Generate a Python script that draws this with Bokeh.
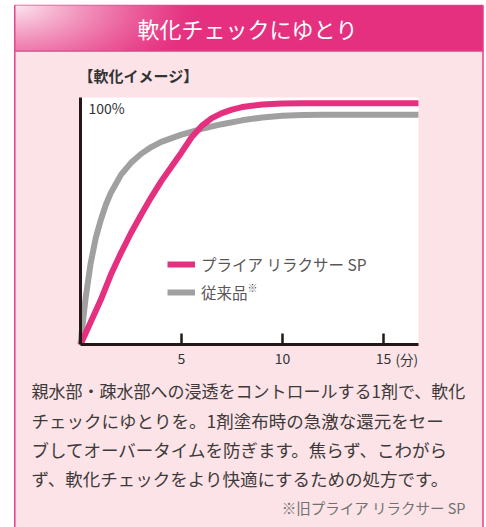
import numpy as np
from bokeh.plotting import figure
from bokeh.models import Range1d, FixedTicker, Label, Legend, LegendItem
from bokeh.embed import file_html
from bokeh.resources import INLINE

# ---------------- data ----------------
pink_t = [0, 0.5, 1.0, 1.5, 2.0, 2.5, 3.0, 3.5, 4.0, 4.5, 5.0, 5.5, 6.0, 6.5, 7.0, 7.5, 8.0, 9.0, 10.0, 11.0, 16.73]
pink_v = [0, 9.2, 18.4, 28.9, 37.9, 46.2, 53.8, 61.0, 67.7, 73.7, 79.6, 85.9, 90.6, 93.8, 95.9, 97.3, 98.4, 99.5, 99.9, 100, 100]
grey_t = [0, 0.1, 0.25, 0.5, 0.75, 1.0, 1.25, 1.5, 2.0, 2.5, 3.0, 3.5, 4.0, 5.0, 6.0, 7.0, 8.0, 9.0, 10.0, 11.0, 12.0, 16.73]
grey_v = [0, 8.0, 19.0, 33.5, 44.0, 51.5, 57.8, 62.8, 70.3, 75.3, 79.0, 81.8, 84.0, 87.0, 89.4, 91.3, 92.9, 94.1, 94.8, 95.1, 95.2, 95.2]
x_ticks = [5, 10, 15]
x_end = 16.73
y_end = 102.36
series_names = ["プライア リラクサー SP", "従来品"]
series_mark = "※"
header_text = "軟化チェックにゆとり"
chart_title = "【軟化イメージ】"
y_label = "100%"
x_unit = "(分)"
body_lines = [
    "親水部・疎水部への浸透をコントロールする1剤で、軟化",
    "チェックにゆとりを。1剤塗布時の急激な還元をセー",
    "ブしてオーバータイムを防ぎます。焦らず、こわがら",
    "ず、軟化チェックをより快適にするための処方です。",
]
footnote = "※旧プライア リラクサー SP"

# ---------------- style ----------------
JP = "Noto Sans CJK JP"
PINK = "#e5307f"
GREY = "#a0a0a0"
BODY_BG = "#fbe3e8"
BORDER = "#e84a8c"
DARK = "#231815"
TEXT = "#3e3a39"

W, H = 486, 527
OX, OY = 80, 344          # pixel position of the chart origin
PXX, PXY = 20.2, 2.413    # pixels per minute, pixels per percent


def PY(r):  # top-down pixel -> bottom-up pixel range
    return H - r


p = figure(width=W, height=H, output_backend="svg", toolbar_location=None,
           x_range=Range1d(-OX / PXX, (W - OX) / PXX),
           y_range=Range1d(-(H - OY) / PXY, OY / PXY),
           min_border=0)
p.extra_x_ranges = {"px": Range1d(0, W)}
p.extra_y_ranges = {"py": Range1d(0, H)}
p.background_fill_color = "white"
p.border_fill_color = "white"
p.outline_line_color = None
p.grid.visible = False

PXR = dict(x_range_name="px", y_range_name="py")

# ---------------- decoration (pixel coordinates) ----------------
p.quad(left=14.3, right=482.5, top=PY(50), bottom=PY(540), fill_color=BODY_BG,
       line_color=BORDER, line_width=1.6, **PXR)
p.quad(left=14.3, right=482.5, top=PY(5), bottom=PY(50.5), fill_color=PINK,
       line_color=BORDER, line_width=1.6, **PXR)

hx0, hx1, hy0, hy1 = 15, 482, 5, 50
hw, hh = hx1 - hx0, hy1 - hy0
xs = hx0 + np.arange(hw) + 0.5
ys = hy0 + np.arange(hh) + 0.5
XX, YY = np.meshgrid(xs, ys)
d = np.sqrt(((XX - 14) / 185) ** 2 + ((YY - 5) / 90) ** 2)
amt = 0.88 * np.clip(1 - d, 0, 1) ** 1.3
base = np.array([0xe5, 0x30, 0x7f], dtype=float)
img = np.empty((hh, hw), dtype=np.uint32)
view = img.view(dtype=np.uint8).reshape((hh, hw, 4))
for k in range(3):
    view[:, :, k] = np.round(base[k] + (255 - base[k]) * amt).astype(np.uint8)
view[:, :, 3] = 255
img = img[::-1].copy()
p.image_rgba(image=[img], x=hx0, y=PY(hy1), dw=hw, dh=hh, **PXR)

# white plot area
p.quad(left=0, right=x_end, bottom=0, top=y_end, fill_color="white", line_color=None)

# ---------------- axes ----------------
p.xaxis.fixed_location = 0
p.xaxis.bounds = (0, x_end)
p.xaxis.ticker = FixedTicker(ticks=x_ticks)
p.xaxis.axis_line_width = 3
p.xaxis.axis_line_color = DARK
p.xaxis.major_tick_in = 11
p.xaxis.major_tick_out = 0
p.xaxis.major_tick_line_width = 2.5
p.xaxis.major_tick_line_color = DARK
p.xaxis.minor_tick_line_color = None
p.xaxis.major_label_text_font = JP
p.xaxis.major_label_text_font_size = "14px"
p.xaxis.major_label_text_color = "#333333"
p.xaxis.major_label_standoff = 8

p.yaxis.fixed_location = 0
p.yaxis.bounds = (0, y_end)
p.yaxis.ticker = FixedTicker(ticks=[])
p.yaxis.axis_line_width = 3
p.yaxis.axis_line_color = DARK
p.yaxis.major_tick_line_color = None
p.yaxis.minor_tick_line_color = None
p.yaxis.major_label_text_alpha = 0

# ---------------- curves ----------------
r_grey = p.line(grey_t, grey_v, line_color=GREY, line_width=6, line_join="round")
r_pink = p.line(pink_t, pink_v, line_color=PINK, line_width=6, line_join="round")

legend = Legend(items=[LegendItem(label=series_names[0], renderers=[r_pink]),
                       LegendItem(label=series_names[1], renderers=[r_grey])],
                location=(167, H - 303), padding=0, margin=0, spacing=6,
                glyph_width=28, glyph_height=20, label_standoff=6, label_height=20,
                label_text_font=JP, label_text_font_size="15.5px", label_text_color="#595757",
                background_fill_alpha=0, border_line_color=None)
p.add_layout(legend)
p.add_layout(Label(x=247, y=PY(287), text=series_mark, text_font=JP, text_font_size="10px",
                   text_color="#595757", text_baseline="middle", **PXR))

# ---------------- texts ----------------
p.add_layout(Label(x=247, y=PY(27.5), text=header_text, text_font=JP, text_font_size="22px",
                   text_color="white", text_align="center", text_baseline="middle", **PXR))
p.add_layout(Label(x=78, y=PY(75), text=chart_title, text_font=JP, text_font_size="15px",
                   text_font_style="bold", text_color="#333333", text_baseline="middle", **PXR))
p.add_layout(Label(x=88, y=PY(107.7), text=y_label, text_font=JP, text_font_size="14px",
                   text_color="#333333", text_baseline="middle", **PXR))
p.add_layout(Label(x=395, y=PY(358.7), text=x_unit, text_font=JP, text_font_size="13.5px",
                   text_color="#333333", text_baseline="middle", **PXR))

line_y = [390, 419.5, 449, 478]
line_size = ["17px", "17.5px", "17.5px", "17.5px"]
for txt, yy, fs in zip(body_lines, line_y, line_size):
    p.add_layout(Label(x=31, y=PY(yy), text=txt, text_font=JP, text_font_size=fs,
                       text_color=TEXT, text_baseline="middle", **PXR))
p.add_layout(Label(x=465, y=PY(507), text=footnote, text_font=JP, text_font_size="14.5px",
                   text_color="#727171", text_align="right", text_baseline="middle", **PXR))

open("out.html", "w").write(file_html(p, INLINE))
